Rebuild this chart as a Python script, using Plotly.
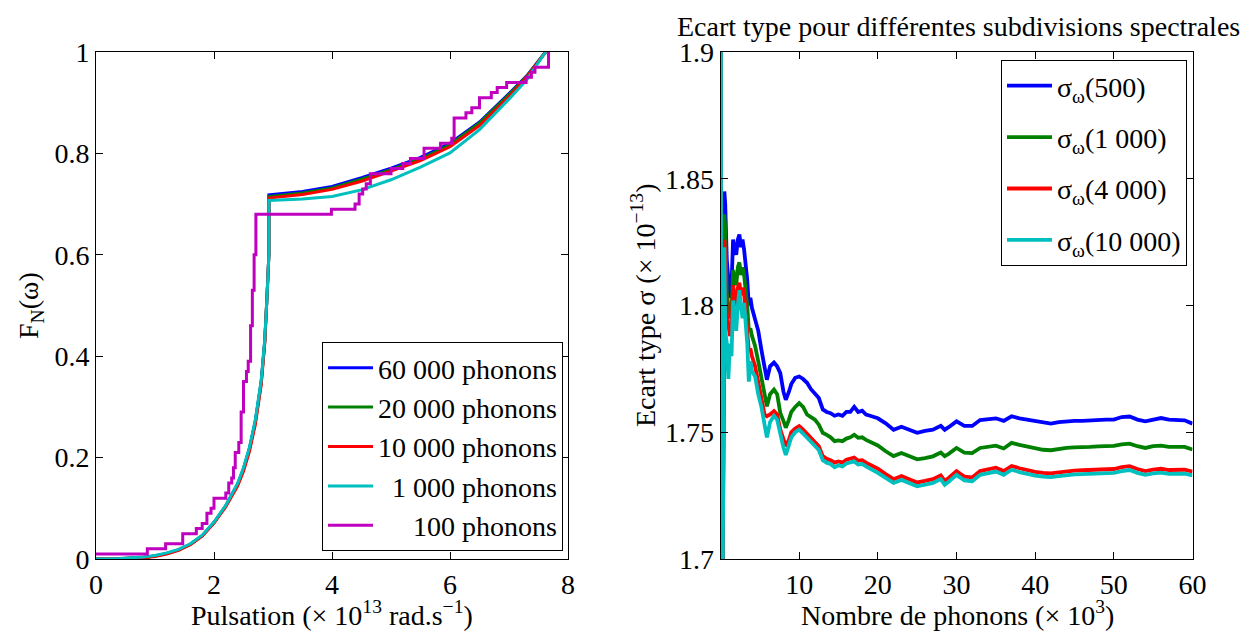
import plotly.graph_objects as go

# ---------------- Left panel: cumulative distribution F_N(omega) ----------------
puls_grid = [0, 0.4, 0.8, 1.0, 1.2, 1.4, 1.6, 1.8, 2.0, 2.2, 2.4, 2.5, 2.6, 2.7, 2.8,
             2.86, 2.9, 2.93, 2.93, 3.2, 3.5, 4.0, 4.5, 5.0, 5.5, 6.0, 6.5, 7.0, 7.3, 7.62]
F_60000 = [0, 0.0005, 0.003, 0.006, 0.011, 0.018, 0.029, 0.046, 0.072, 0.105, 0.148, 0.178,
           0.218, 0.272, 0.35, 0.43, 0.52, 0.60, 0.718, 0.721, 0.725, 0.735, 0.752, 0.771,
           0.792, 0.82, 0.862, 0.918, 0.953, 1.0]
F_20000 = [0, 0.0005, 0.003, 0.006, 0.011, 0.018, 0.029, 0.046, 0.072, 0.105, 0.147, 0.177,
           0.216, 0.270, 0.348, 0.428, 0.52, 0.60, 0.715, 0.718, 0.722, 0.732, 0.749, 0.768,
           0.789, 0.817, 0.86, 0.916, 0.952, 1.0]
F_10000 = [0, 0.0004, 0.002, 0.005, 0.010, 0.017, 0.028, 0.045, 0.071, 0.103, 0.144, 0.173,
           0.212, 0.265, 0.343, 0.425, 0.515, 0.60, 0.712, 0.715, 0.719, 0.729, 0.745, 0.765,
           0.786, 0.813, 0.855, 0.912, 0.95, 1.0]
F_1000 = [0, 0.001, 0.004, 0.007, 0.012, 0.019, 0.030, 0.047, 0.073, 0.106, 0.149, 0.180,
          0.220, 0.274, 0.352, 0.433, 0.52, 0.60, 0.707, 0.708, 0.710, 0.715, 0.728, 0.748,
          0.773, 0.801, 0.847, 0.907, 0.945, 1.0]

puls_100 = [0, 0.87, 1.18, 1.47, 1.70, 1.80, 1.88, 1.95, 2.0, 2.2, 2.25, 2.3, 2.33, 2.36,
            2.42, 2.46, 2.50, 2.55, 2.58, 2.62, 2.65, 2.68, 2.71, 3.99, 4.39, 4.46, 4.52,
            4.58, 4.65, 5.0, 5.2, 5.33, 5.56, 5.84, 6.03, 6.07, 6.27, 6.37, 6.5, 6.7, 6.8,
            6.96, 7.29, 7.38, 7.44, 7.64, 7.67]
F_100 = [0.01, 0.02, 0.03, 0.05, 0.06, 0.07, 0.09, 0.10, 0.12, 0.13, 0.15, 0.16, 0.18, 0.21,
         0.23, 0.29, 0.35, 0.37, 0.39, 0.46, 0.53, 0.60, 0.68, 0.69, 0.70, 0.72, 0.73,
         0.74, 0.76, 0.77, 0.78, 0.79, 0.81, 0.82, 0.83, 0.87, 0.88, 0.89, 0.91, 0.92, 0.93,
         0.94, 0.95, 0.96, 0.97, 0.97, 1.0]

left_names = ["60 000 phonons", "20 000 phonons", "10 000 phonons",
              "\u00a0\u00a01 000 phonons", "\u00a0\u00a0\u00a0\u00a0\u00a0100 phonons"]
left_x_ticks = [0, 2, 4, 6, 8]
left_y_ticks = [0, 0.2, 0.4, 0.6, 0.8, 1]
left_y_ticktext = ["0", "0.2", "0.4", "0.6", "0.8", "1"]

# ---------------- Right panel: standard deviation vs number of phonons ----------------
n_phonons = [0.02, 0.05, 0.1, 0.3,
             0.49, 0.6, 0.8, 1.0, 1.2, 1.4, 1.6, 1.8, 2.0, 2.2, 2.4, 2.6, 2.8, 3.0, 3.2, 3.4,
             3.6, 3.8, 4.0,
             4.4, 4.8, 5.2, 5.6, 5.9, 6.3, 6.8, 7.2, 7.6, 8.0, 8.3, 8.7, 9.0, 9.5, 10.0,
             10.5, 11.0, 11.5, 12.0, 12.5, 13.0, 13.5, 14.0, 14.5, 15.0, 15.5, 16.0, 16.5,
             17.0, 17.5, 18.0, 18.5, 19.0, 19.5, 20.0,
             21, 22, 23, 24, 25, 26, 27, 28, 28.5, 29,
             30, 31, 32, 33, 34, 35, 36, 37, 38, 39, 40, 41, 42, 43, 44, 45, 46, 47, 48, 49,
             50, 51, 52, 53, 54, 55, 56, 57, 58, 59, 60]

sigma_500 = [1.60, 2.00, 1.60, 1.70,
             1.845, 1.840, 1.818, 1.810, 1.803, 1.808, 1.826, 1.822, 1.820, 1.826, 1.828,
             1.823, 1.826, 1.822, 1.816, 1.810, 1.800, 1.803, 1.799,
             1.795, 1.790, 1.7825, 1.775, 1.7707, 1.776, 1.7775, 1.776, 1.7733, 1.766,
             1.7628, 1.766, 1.769, 1.7715, 1.772,
             1.771, 1.7695, 1.767, 1.765, 1.7635, 1.759, 1.758, 1.7575, 1.7565, 1.757,
             1.7565, 1.758, 1.758, 1.760, 1.758, 1.7585, 1.757, 1.7565, 1.756, 1.7555,
             1.7535, 1.751, 1.7522, 1.751, 1.7498, 1.7505, 1.751, 1.7525, 1.751, 1.752,
             1.7543, 1.7525, 1.7525, 1.7548, 1.755, 1.7555, 1.7545, 1.7563, 1.7555, 1.755,
             1.7545, 1.754, 1.7534, 1.754, 1.7543, 1.7545, 1.7545, 1.7547, 1.755, 1.755,
             1.755, 1.756, 1.7562, 1.755, 1.7543, 1.755, 1.7556, 1.755, 1.755, 1.7547, 1.7534]

sigma_1000 = [1.60, 2.00, 1.60, 1.70,
              1.836, 1.830, 1.805, 1.800, 1.795, 1.797, 1.814, 1.810, 1.808, 1.815, 1.817,
              1.812, 1.815, 1.812, 1.806, 1.800, 1.790, 1.791, 1.788,
              1.784, 1.778, 1.771, 1.764, 1.7602, 1.765, 1.7668, 1.765, 1.7576, 1.7545,
              1.7518, 1.755, 1.758, 1.760, 1.7615,
              1.760, 1.757, 1.756, 1.755, 1.753, 1.7498, 1.749, 1.748, 1.7465, 1.7468,
              1.7465, 1.7475, 1.748, 1.749, 1.7478, 1.748, 1.747, 1.7462, 1.7455, 1.7448,
              1.7425, 1.7406, 1.7418, 1.7405, 1.7393, 1.7398, 1.7405, 1.742, 1.7406, 1.7415,
              1.7438, 1.742, 1.7418, 1.7438, 1.7442, 1.7447, 1.7436, 1.7458, 1.745, 1.7443,
              1.7436, 1.7431, 1.7429, 1.7434, 1.7438, 1.744, 1.744, 1.7442, 1.7444, 1.7445,
              1.7446, 1.7452, 1.7455, 1.7445, 1.7438, 1.7445, 1.7447, 1.7442, 1.7443, 1.7442,
              1.7432]

sigma_4000 = [1.60, 2.00, 1.60, 1.70,
              1.826, 1.820, 1.797, 1.793, 1.788, 1.790, 1.808, 1.803, 1.800, 1.807, 1.809,
              1.804, 1.807, 1.805, 1.798, 1.792, 1.782, 1.783, 1.780,
              1.776, 1.770, 1.763, 1.757, 1.7563, 1.757, 1.7583, 1.757, 1.751, 1.747,
              1.7445, 1.747, 1.750, 1.7515, 1.7524,
              1.751, 1.7495, 1.748, 1.746, 1.7445, 1.7406, 1.7395, 1.739, 1.738, 1.7385,
              1.738, 1.7392, 1.7395, 1.740, 1.7388, 1.739, 1.738, 1.7372, 1.7365, 1.7356,
              1.7335, 1.7315, 1.7327, 1.7315, 1.7302, 1.7308, 1.7315, 1.733, 1.7308, 1.732,
              1.7347, 1.7325, 1.7322, 1.7347, 1.7355, 1.736, 1.7347, 1.7367, 1.7358, 1.735,
              1.7344, 1.734, 1.7338, 1.7342, 1.7347, 1.7349, 1.735, 1.7351, 1.7352, 1.7353,
              1.7355, 1.7362, 1.7366, 1.7355, 1.7347, 1.7353, 1.7356, 1.7351, 1.7352, 1.7352,
              1.7345]

sigma_10000 = [1.60, 2.00, 1.60, 1.70,
               1.823, 1.790, 1.785, 1.771, 1.785, 1.780, 1.802, 1.797, 1.790, 1.800, 1.806,
               1.800, 1.795, 1.801, 1.794, 1.785, 1.770, 1.778, 1.774,
               1.772, 1.765, 1.760, 1.753, 1.748, 1.754, 1.7565, 1.755, 1.749, 1.744,
               1.741, 1.745, 1.748, 1.750, 1.751,
               1.7495, 1.748, 1.7465, 1.7445, 1.743, 1.739, 1.738, 1.7375, 1.7362, 1.737,
               1.7365, 1.7377, 1.738, 1.7385, 1.7373, 1.7375, 1.7365, 1.7357, 1.735, 1.734,
               1.732, 1.730, 1.7312, 1.730, 1.7287, 1.7293, 1.730, 1.7315, 1.7293, 1.7305,
               1.7332, 1.731, 1.7307, 1.7332, 1.734, 1.7345, 1.7332, 1.7352, 1.7343, 1.7335,
               1.7329, 1.7325, 1.7323, 1.7327, 1.7332, 1.7334, 1.7335, 1.7336, 1.7337, 1.7338,
               1.734, 1.7347, 1.7351, 1.734, 1.7332, 1.7338, 1.7341, 1.7336, 1.7337, 1.7337,
               1.733]

right_names = ["\u03c3<sub>\u03c9</sub>(500)", "\u03c3<sub>\u03c9</sub>(1 000)",
               "\u03c3<sub>\u03c9</sub>(4 000)", "\u03c3<sub>\u03c9</sub>(10 000)"]
right_x_ticks = [10, 20, 30, 40, 50, 60]
right_y_ticks = [1.7, 1.75, 1.8, 1.85, 1.9]
right_y_ticktext = ["1.7", "1.75", "1.8", "1.85", "1.9"]

colors = ["#0000ff", "#008000", "#ff0000", "#00bfbf", "#bf00bf"]

FONT = "Liberation Serif, Times New Roman, serif"
FS = 28
# The page has an 8px body margin, so the figure is placed at (8, 8) in the window.
OFF = 8
W, H = 1259 - OFF, 634 - OFF

fig = go.Figure()

left_series = [(puls_grid, F_60000), (puls_grid, F_20000), (puls_grid, F_10000),
               (puls_grid, F_1000)]
for (xs, ys), name, col in zip(left_series, left_names[:4], colors[:4]):
    fig.add_trace(go.Scatter(x=xs, y=ys, mode="lines", name=name,
                             line=dict(color=col, width=3), xaxis="x", yaxis="y",
                             legend="legend"))
fig.add_trace(go.Scatter(x=puls_100, y=F_100, mode="lines", name=left_names[4],
                         line=dict(color=colors[4], width=3, shape="hv"),
                         xaxis="x", yaxis="y", legend="legend"))

for i, (ys, name, col) in enumerate(zip([sigma_500, sigma_1000, sigma_4000, sigma_10000],
                                        right_names, colors[:4])):
    fig.add_trace(go.Scatter(x=n_phonons, y=ys, mode="lines", name=name,
                             line=dict(color=col, width=3.8), xaxis="x2", yaxis="y2",
                             legend="legend2", legendgroup="g%d" % i))

axis_common = dict(showline=True, linecolor="black", linewidth=1, mirror="allticks",
                   ticks="inside", ticklen=7, tickcolor="black", tickwidth=1,
                   showgrid=False, zeroline=False, automargin=False,
                   tickfont=dict(family=FONT, size=FS, color="black"))

def px_x(p):
    return (p - OFF) / W

def px_y(p):
    return 1 - (p - OFF) / H

fig.update_layout(
    width=W, height=H,
    margin=dict(l=0, r=0, t=0, b=0, pad=0, autoexpand=False),
    paper_bgcolor="white", plot_bgcolor="white",
    font=dict(family=FONT, size=FS, color="black"),
    xaxis=dict(domain=[px_x(96), px_x(568)], range=[0, 8], tickvals=left_x_ticks,
               anchor="y", **axis_common),
    yaxis=dict(domain=[px_y(559), px_y(52)], range=[0, 1], tickvals=left_y_ticks,
               ticktext=left_y_ticktext, anchor="x", **axis_common),
    xaxis2=dict(domain=[px_x(720.5), px_x(1192.5)], range=[0, 60], tickvals=right_x_ticks,
                anchor="y2", **axis_common),
    yaxis2=dict(domain=[px_y(559), px_y(52)], range=[1.7, 1.9], tickvals=right_y_ticks,
                ticktext=right_y_ticktext, anchor="x2", **axis_common),
    legend=dict(x=px_x(563), y=px_y(551), xanchor="right", yanchor="bottom",
                bgcolor="white", bordercolor="black", borderwidth=1, itemwidth=45,
                font=dict(family=FONT, size=FS, color="black"), traceorder="normal"),
    legend2=dict(x=px_x(1187), y=px_y(60), xanchor="right", yanchor="top",
                 bgcolor="white", bordercolor="black", borderwidth=1, tracegroupgap=12,
                 itemwidth=45,
                 font=dict(family=FONT, size=FS, color="black"), traceorder="grouped"),
    showlegend=True,
)

ann_font = dict(family=FONT, size=FS, color="black")
fig.add_annotation(text="Ecart type pour diff\u00e9rentes subdivisions spectrales",
                   x=px_x(958), y=px_y(26), xref="paper", yref="paper", showarrow=False,
                   font=ann_font, xanchor="center", yanchor="middle")
fig.add_annotation(text="Pulsation (\u00d7 10<sup>13</sup> rad.s<sup>\u22121</sup>)",
                   x=px_x(332), y=px_y(613), xref="paper", yref="paper", showarrow=False,
                   font=ann_font, xanchor="center", yanchor="middle")
fig.add_annotation(text="Nombre de phonons (\u00d7 10<sup>3</sup>)",
                   x=px_x(957), y=px_y(613), xref="paper", yref="paper", showarrow=False,
                   font=ann_font, xanchor="center", yanchor="middle")
fig.add_annotation(text="F<sub>N</sub>(\u03c9)", textangle=-90,
                   x=px_x(30), y=px_y(306), xref="paper", yref="paper", showarrow=False,
                   font=ann_font, xanchor="center", yanchor="middle")
fig.add_annotation(text="Ecart type \u03c3 (\u00d7 10<sup>\u221213</sup>)", textangle=-90,
                   x=px_x(643), y=px_y(306), xref="paper", yref="paper", showarrow=False,
                   font=ann_font, xanchor="center", yanchor="middle")

fig.write_html("out.html")
